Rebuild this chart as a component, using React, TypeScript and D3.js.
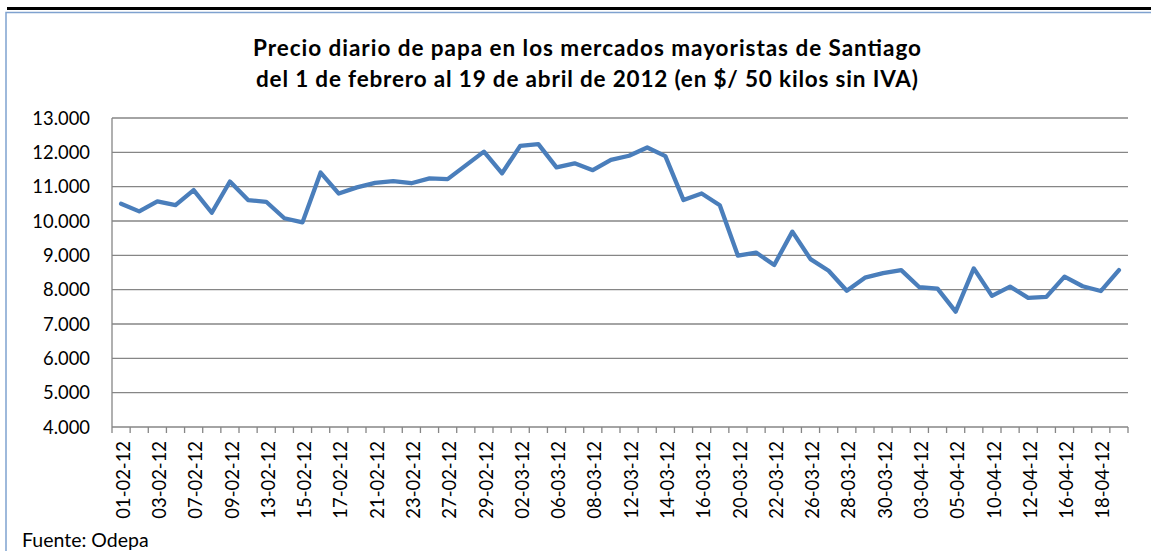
import React, { useEffect, useRef } from 'react';
import * as d3 from 'd3';

const dates = [
  '01-02-12', '02-02-12', '03-02-12', '06-02-12', '07-02-12', '08-02-12', '09-02-12', '10-02-12',
  '13-02-12', '14-02-12', '15-02-12', '16-02-12', '17-02-12', '20-02-12', '21-02-12', '22-02-12',
  '23-02-12', '24-02-12', '27-02-12', '28-02-12', '29-02-12', '01-03-12', '02-03-12', '05-03-12',
  '06-03-12', '07-03-12', '08-03-12', '09-03-12', '12-03-12', '13-03-12', '14-03-12', '15-03-12',
  '16-03-12', '19-03-12', '20-03-12', '21-03-12', '22-03-12', '23-03-12', '26-03-12', '27-03-12',
  '28-03-12', '29-03-12', '30-03-12', '02-04-12', '03-04-12', '04-04-12', '05-04-12', '09-04-12',
  '10-04-12', '11-04-12', '12-04-12', '13-04-12', '16-04-12', '17-04-12', '18-04-12', '19-04-12',
];

const prices = [
  10500, 10280, 10570, 10460, 10900, 10240, 11150, 10610,
  10560, 10080, 9960, 11410, 10800, 10980, 11110, 11160,
  11100, 11240, 11220, 11620, 12020, 11390, 12190, 12240,
  11560, 11680, 11480, 11780, 11900, 12140, 11890, 10610,
  10800, 10460, 8990, 9080, 8720, 9690, 8890, 8550,
  7970, 8350, 8480, 8570, 8070, 8030, 7360, 8620,
  7820, 8090, 7760, 7790, 8380, 8100, 7960, 8570,
];

const yTicks = [4000, 5000, 6000, 7000, 8000, 9000, 10000, 11000, 12000, 13000];

const titleLines = [
  'Precio diario de papa en los mercados mayoristas de Santiago',
  'del 1 de febrero al 19 de abril de 2012 (en $/ 50 kilos sin IVA)',
];

const FONT = 'Lato, "Open Sans", "DejaVu Sans", sans-serif';

export default function App() {
  const svgRef = useRef<SVGSVGElement>(null);

  useEffect(() => {
    if (!svgRef.current) return;
    const svg = d3.select(svgRef.current);
    svg.selectAll('*').remove();

    const width = 1151;
    const height = 551;
    const plot = { left: 112, right: 1128, top: 118, bottom: 427 };

    const es = d3.formatLocale({ decimal: ',', thousands: '.', grouping: [3], currency: ['$', ''] });
    const fmt = es.format(',.0f');

    const x = d3.scaleBand<string>().domain(dates).range([plot.left, plot.right]);
    const y = d3.scaleLinear().domain([4000, 13000]).range([plot.bottom, plot.top]);
    const cx = (d: string) => (x(d) as number) + x.bandwidth() / 2;

    svg.append('rect').attr('width', width).attr('height', height).attr('fill', '#fff');

    // remnant of the table above the chart
    svg.append('line')
      .attr('x1', 7).attr('x2', width).attr('y1', 8.5).attr('y2', 8.5)
      .attr('stroke', '#000').attr('stroke-width', 3);

    // chart frame
    svg.append('path')
      .attr('d', `M6,${height + 2}V12.5H${width + 2}`)
      .attr('fill', 'none')
      .attr('stroke', '#7FA2CF')
      .attr('stroke-width', 1.5);

    // title
    svg.append('g')
      .selectAll('text')
      .data(titleLines)
      .enter()
      .append('text')
      .attr('x', 587)
      .attr('y', (_d, i) => 56 + i * 31)
      .attr('text-anchor', 'middle')
      .attr('font-family', FONT)
      .attr('font-weight', 'bold')
      .attr('font-size', 22.5)
      .attr('textLength', (_d, i) => (i === 0 ? 668 : 662))
      .attr('fill', '#000')
      .text((d) => d);

    // gridlines
    svg.append('g')
      .selectAll('line')
      .data(yTicks)
      .enter()
      .append('line')
      .attr('x1', plot.left).attr('x2', plot.right)
      .attr('y1', (d) => y(d)).attr('y2', (d) => y(d))
      .attr('stroke', '#868686')
      .attr('stroke-width', 1.3);

    // y axis line
    svg.append('line')
      .attr('x1', plot.left).attr('x2', plot.left)
      .attr('y1', plot.top).attr('y2', plot.bottom)
      .attr('stroke', '#868686').attr('stroke-width', 1.3);

    // y labels
    svg.append('g')
      .selectAll('text')
      .data(yTicks)
      .enter()
      .append('text')
      .attr('x', 90)
      .attr('y', (d) => y(d))
      .attr('dy', '0.36em')
      .attr('text-anchor', 'end')
      .attr('font-family', FONT)
      .attr('font-size', 18.4)
      .attr('fill', '#000')
      .text((d) => fmt(d));

    // x ticks at category boundaries
    const tickX = dates.map((d) => x(d) as number).concat([plot.right]);
    svg.append('g')
      .selectAll('line')
      .data(tickX)
      .enter()
      .append('line')
      .attr('x1', (d) => d).attr('x2', (d) => d)
      .attr('y1', plot.bottom).attr('y2', plot.bottom + 6)
      .attr('stroke', '#868686').attr('stroke-width', 1.3);

    // x labels, every other day
    svg.append('g')
      .selectAll('text')
      .data(dates.filter((_d, i) => i % 2 === 0))
      .enter()
      .append('text')
      .attr('transform', (d) => `translate(${cx(d) + 2},${plot.bottom + 14}) rotate(-90)`)
      .attr('dy', '0.36em')
      .attr('text-anchor', 'end')
      .attr('font-family', FONT)
      .attr('font-size', 18.4)
      .attr('fill', '#000')
      .text((d) => d);

    // price line
    const line = d3.line<number>()
      .x((_d, i) => cx(dates[i]))
      .y((d) => y(d));

    svg.append('path')
      .datum(prices)
      .attr('d', line)
      .attr('fill', 'none')
      .attr('stroke', '#4A7EBB')
      .attr('stroke-width', 4.3)
      .attr('stroke-linejoin', 'round')
      .attr('stroke-linecap', 'round');

    // source
    svg.append('text')
      .attr('x', 22)
      .attr('y', 547)
      .attr('font-family', FONT)
      .attr('font-size', 19.5)
      .attr('fill', '#000')
      .text('Fuente: Odepa');
  }, []);

  return (
    <div style={{ position: 'absolute', left: 0, top: 0, width: 1151, height: 551, overflow: 'hidden' }}>
      <svg ref={svgRef} width={1151} height={551} style={{ display: 'block' }} />
    </div>
  );
}
